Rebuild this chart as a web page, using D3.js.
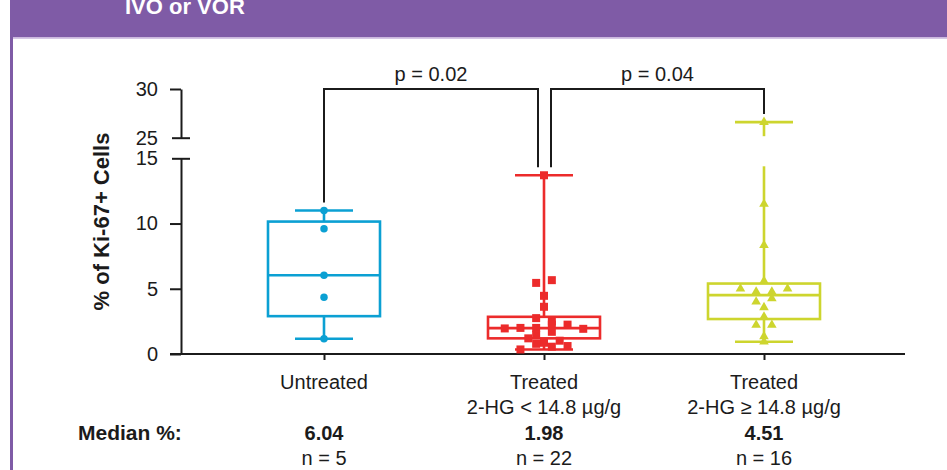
<!DOCTYPE html>
<html>
<head>
<meta charset="utf-8">
<script src="https://cdn.jsdelivr.net/npm/d3@7"></script>
<style>
  html, body { margin: 0; padding: 0; background: #fff; }
  svg { display: block; font-family: "Liberation Sans", Arial, Helvetica, sans-serif; }
</style>
</head>
<body>
<svg id="chart" width="947" height="470"></svg>
<script>
// ---- data -------------------------------------------------------------
const groups = ["untreated", "lowHG", "highHG"];
const groupLine1 = ["Untreated", "Treated", "Treated"];
const groupLine2 = ["", "2-HG < 14.8 µg/g", "2-HG ≥ 14.8 µg/g"];
const groupN = [5, 22, 16];

// individual Ki-67+ percentages per group
const untreatedValues = [11.0, 9.6, 6.04, 4.35, 1.17];
const lowHGValues = [13.7, 5.45, 5.66, 4.46, 3.62, 2.75, 2.5, 1.96, 2.0, 2.0, 2.25, 2.25,
                     1.93, 1.2, 0.86, 1.02, 1.45, 1.7, 0.35, 0.78, 0.56, 0.61];
const highHGValues = [26.6, 11.5, 8.34, 5.6, 5.0, 4.77, 4.77, 5.0, 4.0, 4.25, 3.57, 2.85,
                      2.22, 2.22, 1.35, 0.94];

// box summaries (min / Q1 / median / Q3 / max)
const boxMin    = [1.17, 0.35, 0.94];
const boxQ1     = [2.9, 1.2, 2.68];
const boxMedian = [6.04, 1.98, 4.51];
const boxQ3     = [10.15, 2.85, 5.4];
const boxMax    = [11.0, 13.7, 26.6];

const lowerTicks = [0, 5, 10, 15];
const upperTicks = [25, 30];

const comparisonPairs = [[0, 1], [1, 2]];
const comparisonLabels = ["p = 0.02", "p = 0.04"];

// ---- styling ----------------------------------------------------------
const colors = ["#0ba0d3", "#ec2b2b", "#cdd52e"];
const purple = "#7f5ba6";
const ink = "#1b1b1b";

const svg = d3.select("#chart");

// header banner and left frame
svg.append("rect").attr("x", 10).attr("y", 0).attr("width", 937).attr("height", 37).attr("fill", purple);
svg.append("rect").attr("x", 10).attr("y", 37).attr("width", 937).attr("height", 1.8).attr("fill", "#cbb8de");
svg.append("rect").attr("x", 10).attr("y", 37).attr("width", 3).attr("height", 433).attr("fill", purple);
svg.append("text").attr("x", 125).attr("y", 14)
  .attr("fill", "#fff").attr("font-weight", "bold").attr("font-size", 22)
  .text("IVO or VOR");

// ---- scales -----------------------------------------------------------
const axisX = 181, axisRight = 905;
const x = d3.scalePoint().domain(groups).range([324, 764]);
const yLow = d3.scaleLinear().domain([0, 15]).range([354, 158.3]);
const yHigh = d3.scaleLinear().domain([25, 30]).range([137.7, 89]);
const breakLow = 15, breakHigh = 25;
const y = v => (v >= breakHigh ? yHigh(v) : yLow(v));

// ---- axes -------------------------------------------------------------
const tickFmt = d3.format("d");
const gLow = svg.append("g").attr("transform", `translate(${axisX},0)`)
  .call(d3.axisLeft(yLow).tickValues(lowerTicks).tickFormat(tickFmt)
    .tickSize(11).tickSizeOuter(0).tickPadding(12));
const gHigh = svg.append("g").attr("transform", `translate(${axisX},0)`)
  .call(d3.axisLeft(yHigh).tickValues(upperTicks).tickFormat(tickFmt)
    .tickSize(11).tickSizeOuter(0).tickPadding(12));

[gLow, gHigh].forEach(g => {
  g.selectAll(".domain").attr("stroke", ink).attr("stroke-width", 2);
  g.selectAll(".tick line").attr("stroke", ink).attr("stroke-width", 2);
  g.selectAll(".tick text").attr("fill", ink).attr("font-size", 20)
    .attr("font-family", "Liberation Sans, Arial, sans-serif");
  // break marks straddle the axis
  g.selectAll(".tick").filter(d => d === breakLow || d === breakHigh)
    .select("line").attr("x1", -9).attr("x2", 9);
});

const gX = svg.append("g").attr("transform", `translate(0,${yLow(0)})`)
  .call(d3.axisBottom(x).tickSize(6).tickFormat("").tickSizeOuter(0));
gX.select(".domain").remove();
gX.selectAll(".tick line").attr("stroke", ink).attr("stroke-width", 2);
gX.append("line").attr("x1", axisX - 11).attr("x2", axisRight)
  .attr("stroke", ink).attr("stroke-width", 2);

// y title
svg.append("text")
  .attr("transform", `translate(109,${(yLow(0) + yHigh(30)) / 2}) rotate(-90)`)
  .attr("text-anchor", "middle").attr("font-weight", "bold").attr("font-size", 22)
  .attr("fill", ink).text("% of Ki-67+ Cells");

// ---- boxes ------------------------------------------------------------
const boxWidth = 112, capWidth = 58, boxStroke = 2.6;
const gBoxes = svg.append("g");
groups.forEach((g, i) => {
  const cx = x(g), c = colors[i];
  const gb = gBoxes.append("g").attr("stroke", c).attr("stroke-width", boxStroke).attr("fill", "none");
  // lower whisker
  gb.append("line").attr("x1", cx).attr("x2", cx).attr("y1", y(boxQ1[i])).attr("y2", y(boxMin[i]));
  // upper whisker, split across the axis break when needed
  if (boxMax[i] >= breakHigh) {
    gb.append("line").attr("x1", cx).attr("x2", cx).attr("y1", y(boxQ3[i])).attr("y2", yLow(breakLow) + 8);
    gb.append("line").attr("x1", cx).attr("x2", cx).attr("y1", yHigh(breakHigh) - 1.5).attr("y2", y(boxMax[i]));
  } else {
    gb.append("line").attr("x1", cx).attr("x2", cx).attr("y1", y(boxQ3[i])).attr("y2", y(boxMax[i]));
  }
  [boxMin[i], boxMax[i]].forEach(v => {
    gb.append("line").attr("x1", cx - capWidth / 2).attr("x2", cx + capWidth / 2)
      .attr("y1", y(v)).attr("y2", y(v));
  });
  gb.append("rect").attr("x", cx - boxWidth / 2).attr("width", boxWidth)
    .attr("y", y(boxQ3[i])).attr("height", y(boxQ1[i]) - y(boxQ3[i]));
  gb.append("line").attr("x1", cx - boxWidth / 2).attr("x2", cx + boxWidth / 2)
    .attr("y1", y(boxMedian[i])).attr("y2", y(boxMedian[i]));
});

// ---- points: values are binned into rows and each row is centred ------
const colStep = 15.7;
function swarm(values, rowPx) {
  const items = values.map((v, i) => ({ v, i, py: y(v), dx: 0 }));
  const sorted = items.slice().sort((a, b) => a.v - b.v || a.i - b.i);
  const rows = [];
  let cur = null;
  sorted.forEach(it => {
    if (cur && Math.abs(it.py - cur.start) <= rowPx) cur.items.push(it);
    else { cur = { start: it.py, items: [it] }; rows.push(cur); }
  });
  rows.forEach(r => {
    r.items.sort((a, b) => a.i - b.i);
    const n = r.items.length;
    r.items.forEach((it, k) => { it.dx = (k - (n - 1) / 2) * colStep; });
  });
  return items;
}

const pointSets = [
  { values: untreatedValues, rowPx: 5, symbol: d3.symbolCircle, size: 44 },
  { values: lowHGValues, rowPx: 6, symbol: d3.symbolSquare, size: 64 },
  { values: highHGValues, rowPx: 5, symbol: d3.symbolTriangle, size: 40 }
];
pointSets.forEach((s, i) => {
  const pts = swarm(s.values, s.rowPx);
  svg.append("g").selectAll("path").data(pts).join("path")
    .attr("d", d3.symbol().type(s.symbol).size(s.size))
    .attr("transform", d => `translate(${x(groups[i]) + d.dx},${d.py})`)
    .attr("fill", colors[i]);
});

// ---- significance brackets -------------------------------------------
const bracketY = yHigh(30);
comparisonPairs.forEach(([a, b], k) => {
  const xa = x(groups[a]) + (a === 1 ? 7 : 0);
  const xb = x(groups[b]) - (b === 1 ? 6 : 0);
  const ya = y(boxMax[a]) - 8, yb = y(boxMax[b]) - 8;
  svg.append("path")
    .attr("d", `M${xa},${ya}V${bracketY}H${xb}V${yb}`)
    .attr("fill", "none").attr("stroke", ink).attr("stroke-width", 2);
  svg.append("text").attr("x", (xa + xb) / 2).attr("y", bracketY - 8)
    .attr("text-anchor", "middle").attr("font-size", 20).attr("fill", ink)
    .text(comparisonLabels[k]);
});

// ---- category labels and summary rows ---------------------------------
const fmt = d3.format(".2f");
groups.forEach((g, i) => {
  const cx = x(g);
  svg.append("text").attr("x", cx).attr("y", 389).attr("text-anchor", "middle")
    .attr("font-size", 20).attr("fill", ink).text(groupLine1[i]);
  if (groupLine2[i]) {
    svg.append("text").attr("x", cx).attr("y", 414).attr("text-anchor", "middle")
      .attr("font-size", 20).attr("fill", ink).text(groupLine2[i]);
  }
  svg.append("text").attr("x", cx).attr("y", 440).attr("text-anchor", "middle")
    .attr("font-size", 20).attr("font-weight", "bold").attr("fill", ink).text(fmt(boxMedian[i]));
  svg.append("text").attr("x", cx).attr("y", 465).attr("text-anchor", "middle")
    .attr("font-size", 20).attr("fill", ink).text(`n = ${groupN[i]}`);
});
svg.append("text").attr("x", 78).attr("y", 440)
  .attr("font-size", 21).attr("font-weight", "bold").attr("fill", ink).text("Median %:");
</script>
</body>
</html>
